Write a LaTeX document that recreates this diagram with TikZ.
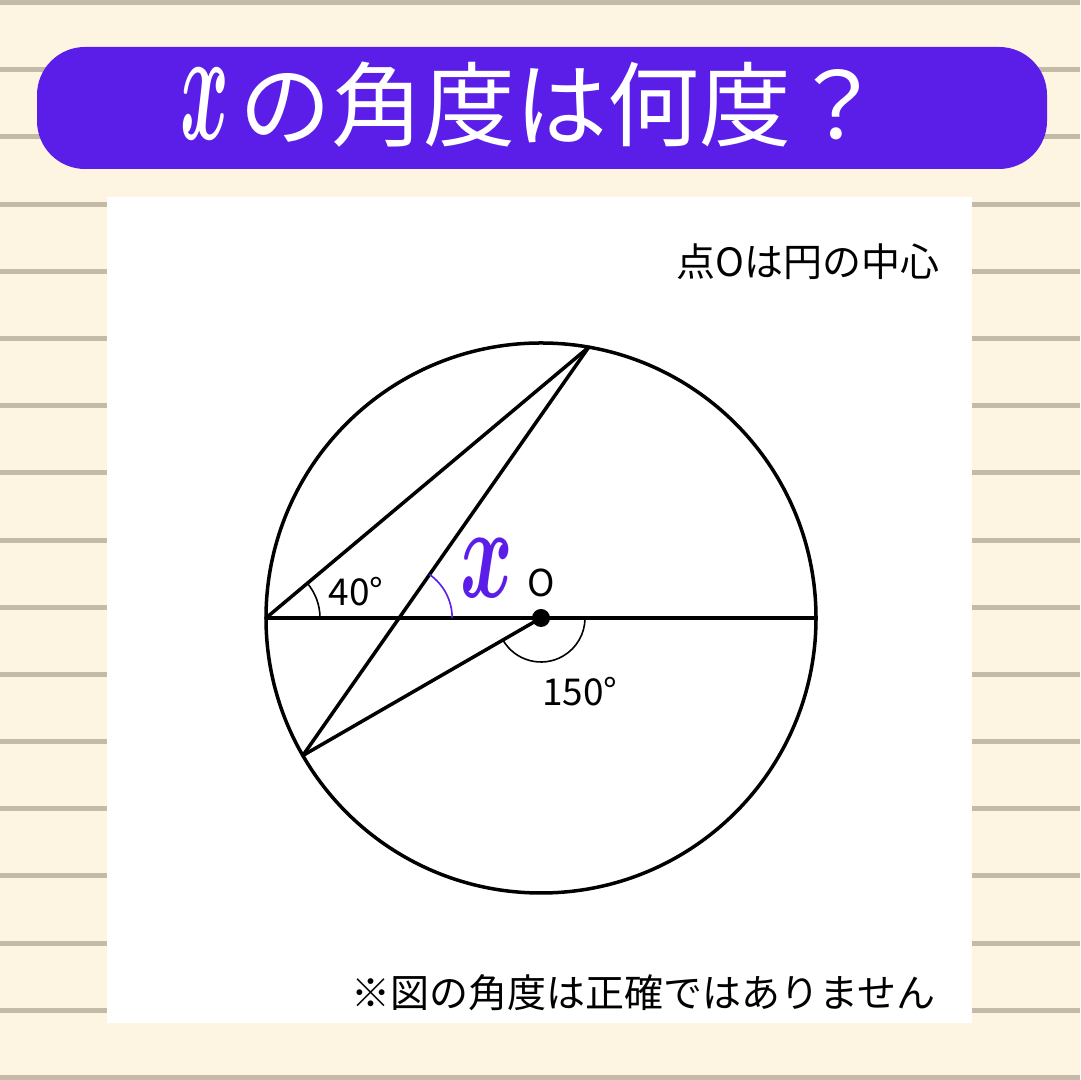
\documentclass[tikz,border=0pt]{standalone}
\usepackage{fontspec}
\usepackage{amsmath}
\usepackage{graphicx}
\setmainfont{Noto Sans CJK JP}
\usepackage{tikz}
\usetikzlibrary{calc}
\definecolor{cream}{HTML}{FDF4E1}
\definecolor{stripe}{HTML}{C3BBA8}
\definecolor{violet}{HTML}{5B1DE8}
\newcommand{\bigx}[2]{\scalebox{#1}[#2]{\normalsize$\boldsymbol{x}$}}

\begin{document}
\begin{tikzpicture}[x=0.5pt,y=0.5pt,
  edge/.style={line width=1.75pt,line cap=round},
  anglearc/.style={line width=0.8pt},
  lbl/.style={font=\fontsize{18.5}{20}\selectfont,inner sep=0pt}]

\useasboundingbox (0,0) rectangle (1080,1080);

%paper
\fill[cream] (0,0) rectangle (1080,1080);
\foreach \k in {0,...,16}
  \fill[stripe] (0,{1075-67.19*\k}) rectangle (1080,{1080-67.19*\k});

%title
\fill[violet,rounded corners=24pt] (37,911) rectangle (1047,1033);
\node[text=white,inner sep=0pt,anchor=base west,font=\fontsize{46}{46}\selectfont] (title) at (180,940)
  {\bigx{3.7}{8}\hspace{5pt}の角度は何度？};

%panel
\fill[white] (107,57) rectangle (972,883);
\node[lbl,anchor=east,font=\fontsize{19.5}{20}\selectfont] (note) at (940,818) {点Oは円の中心};
\node[lbl,anchor=east,font=\fontsize{19.5}{20}\selectfont] (warn) at (936,87) {※図の角度は正確ではありません};

%circle
\coordinate (O) at (541,462);
\coordinate (A) at ($(O)+(180:275)$);
\coordinate (B) at ($(O)+(0:275)$);
\coordinate (P) at ($(O)+(80:275)$);
\coordinate (Q) at ($(O)+(210:275)$);
\draw[edge] (O) circle (275);
\coordinate (I) at (intersection of Q--P and A--B);

%chords
\draw[edge] (A) -- (B);
\draw[edge] (A) -- (P);
\draw[edge] (Q) -- (P);
\draw[edge] (Q) -- (O);
\fill (O) circle (9);

%angles
\draw[anglearc] ($(A)+(0:54)$) arc (0:40:54);
\draw[anglearc,violet] ($(I)+(0:53)$) arc (0:55:53);
\draw[anglearc] ($(O)+(210:44)$) arc (210:360:44);

%labels
\node[lbl] (a40) at (356,488) {40°};
\node[lbl] (a150) at (580,388) {150°};
\node[lbl] (o) at (541,497) {O};
\node[text=violet,inner sep=0pt] (xv) at (487,512) {\bigx{4}{6.6}};

\end{tikzpicture}
\end{document}
